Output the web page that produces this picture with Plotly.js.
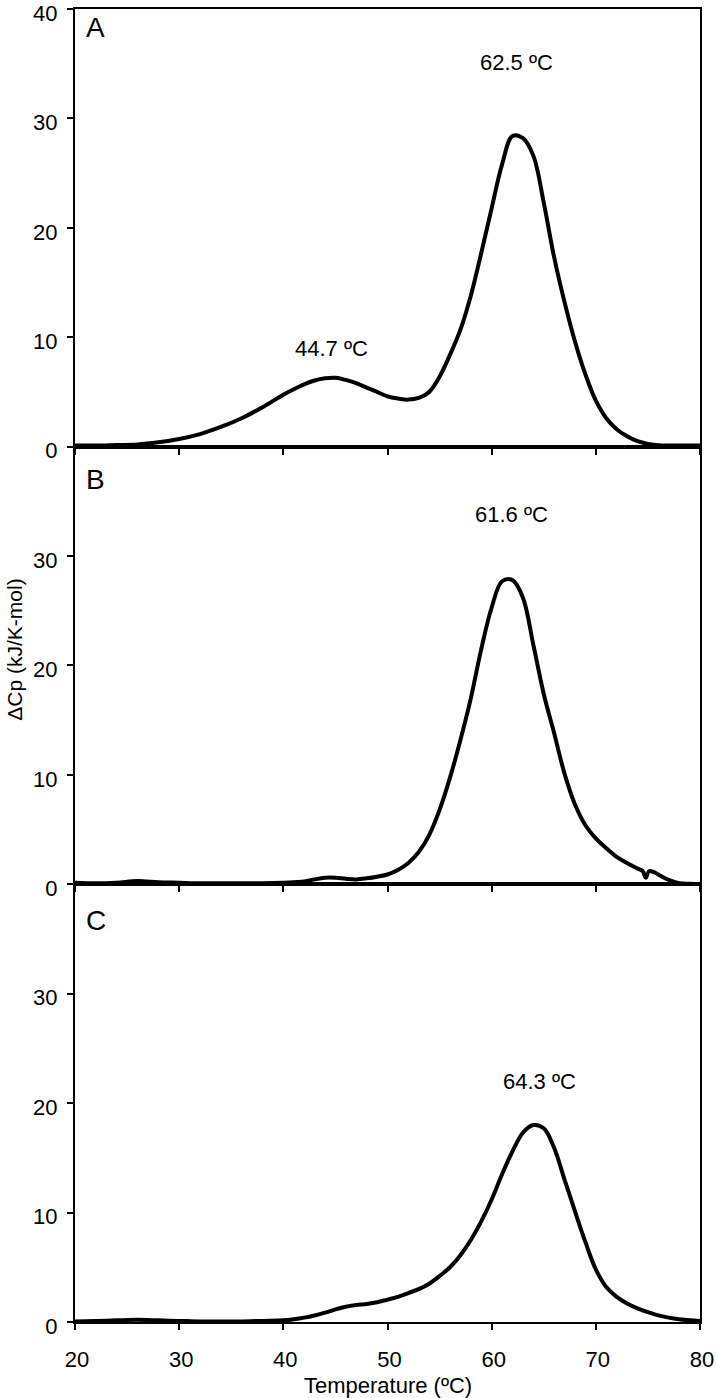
<!DOCTYPE html>
<html>
<head>
<meta charset="utf-8">
<script src="https://cdn.plot.ly/plotly-3.0.1.min.js"></script>
<style>html,body{margin:0;padding:0;background:#fff;}</style>
</head>
<body>
<div id="chart" style="width:716px;height:1398px;"></div>
<script>
// Panel A
var tempA = [20,22,24,26,28,30,32,34,36,38,40,41,42,43,44,45,46,47,48,49,50,51,52,53,54,55,56,57,58,59,60,61,62,63,64,65,66,67,68,69,70,71,72,73,74,75,76,78,80];
var cpA   = [0.1,0.1,0.15,0.2,0.4,0.7,1.15,1.8,2.6,3.6,4.75,5.25,5.7,6.05,6.25,6.3,6.1,5.8,5.4,5.0,4.6,4.4,4.3,4.45,5.0,6.4,8.4,10.7,13.8,17.7,21.8,25.8,28.4,28.2,26.6,22.3,17.3,13.2,9.6,6.6,4.2,2.6,1.6,0.95,0.5,0.25,0.12,0.1,0.1];
// Panel B
var tempB = [20,22,24,26,28,30,32,34,36,38,40,42,43,44,45,46,47,48,49,50,51,52,53,54,55,56,57,58,59,60,61,62,63,64,65,66,67,68,69,70,71,72,73,74,74.5,74.8,75.1,75.5,76,77,78,79,80];
var cpB   = [0.15,0.1,0.15,0.3,0.2,0.15,0.1,0.1,0.1,0.1,0.15,0.25,0.45,0.6,0.6,0.5,0.45,0.55,0.7,0.9,1.3,1.95,2.95,4.5,6.8,9.75,13.2,17.0,21.5,25.3,27.7,27.8,26.2,21.9,17.4,13.8,10.1,7.3,5.4,4.2,3.3,2.5,1.95,1.45,1.2,0.6,1.2,1.15,0.9,0.4,0.1,0.05,0.0];
// Panel C
var tempC = [20,22,24,26,28,30,32,34,36,38,40,41,42,43,44,45,46,47,48,49,50,51,52,53,54,55,56,57,58,59,60,61,62,63,64,65,66,67,68,69,70,71,72,73,74,75,76,77,78,79,80];
var cpC   = [0.05,0.1,0.15,0.2,0.15,0.1,0.05,0.05,0.05,0.1,0.15,0.25,0.4,0.6,0.85,1.15,1.4,1.55,1.65,1.8,2.05,2.3,2.65,3.0,3.5,4.2,5.0,6.1,7.5,9.2,11.2,13.5,15.6,17.3,18.0,17.7,15.9,13.0,10.1,7.3,4.8,3.2,2.3,1.7,1.25,0.9,0.6,0.4,0.25,0.15,0.1];

var xTicks = [20,30,40,50,60,70,80];
var yTicksA = [0,10,20,30,40];
var yTicksBC = [0,10,20,30];
var panelLabels = ['A','B','C'];
var peakLabels = ['44.7 ºC','62.5 ºC','61.6 ºC','64.3 ºC'];
var xTitle = 'Temperature (ºC)';
var yTitle = 'ΔCp (kJ/K-mol)';

var lineStyle = {color:'black', width:4, shape:'spline', smoothing:1};
var traces = [
  {x:tempA, y:cpA, xaxis:'x', yaxis:'y', mode:'lines', line:lineStyle, hoverinfo:'skip'},
  {x:tempB, y:cpB, xaxis:'x2', yaxis:'y2', mode:'lines', line:lineStyle, hoverinfo:'skip'},
  {x:tempC, y:cpC, xaxis:'x3', yaxis:'y3', mode:'lines', line:lineStyle, hoverinfo:'skip'}
];

function xax(anchor, labels){
  return {anchor:anchor, domain:[0,1], range:[20,80], tickvals:xTicks, showticklabels:labels,
    ticks:'outside', ticklen:6, tickwidth:2, tickcolor:'black', showline:true, linewidth:2,
    linecolor:'black', mirror:true, showgrid:false, zeroline:false, fixedrange:true,
    ticklabelstandoff:11, ticklabelshift:2, ticklabeloverflow:'allow', tickfont:{size:22}};
}
function yax(anchor, dom, tv){
  return {anchor:anchor, domain:dom, range:[0,40], tickvals:tv,
    ticks:'outside', ticklen:6, tickwidth:2, tickcolor:'black', showline:true, linewidth:2,
    linecolor:'black', mirror:true, showgrid:false, zeroline:false, fixedrange:true,
    ticklabelstandoff:5, ticklabelshift:4, ticklabeloverflow:'allow', tickfont:{size:22}};
}

var ann = [];
var ax = [['x','y',38.3],['x2','y2',37.0],['x3','y3',36.7]];
for (var i=0;i<3;i++){
  ann.push({xref:ax[i][0], yref:ax[i][1], x:22.0, y:ax[i][2], text:panelLabels[i], showarrow:false,
    font:{size:28}, xanchor:'center', yanchor:'middle'});
}
ann.push({xref:'x', yref:'y', x:44.6, y:9.0, text:peakLabels[0], showarrow:false, font:{size:22}, xanchor:'center', yanchor:'middle'});
ann.push({xref:'x', yref:'y', x:62.4, y:35.1, text:peakLabels[1], showarrow:false, font:{size:22}, xanchor:'center', yanchor:'middle'});
ann.push({xref:'x2', yref:'y2', x:61.9, y:33.8, text:peakLabels[2], showarrow:false, font:{size:22}, xanchor:'center', yanchor:'middle'});
ann.push({xref:'x3', yref:'y3', x:64.6, y:22.0, text:peakLabels[3], showarrow:false, font:{size:22}, xanchor:'center', yanchor:'middle'});
ann.push({xref:'paper', yref:'paper', x:0.5, y:-0.048, text:xTitle, showarrow:false, font:{size:22}, xanchor:'center', yanchor:'middle'});
ann.push({xref:'paper', yref:'paper', x:-0.096, y:0.512, text:yTitle, showarrow:false, font:{size:21}, textangle:-90, xanchor:'center', yanchor:'middle'});

var layout = {
  width:716, height:1398,
  margin:{l:75, r:16, t:9, b:76, pad:0},
  showlegend:false,
  paper_bgcolor:'white', plot_bgcolor:'white',
  font:{family:'"Liberation Sans", Arial, Helvetica, sans-serif', size:22, color:'black'},
  xaxis: xax('y', false),
  yaxis: yax('x', [2/3,1], yTicksA),
  xaxis2: xax('y2', false),
  yaxis2: yax('x2', [1/3,2/3], yTicksBC),
  xaxis3: xax('y3', true),
  yaxis3: yax('x3', [0,1/3], yTicksBC),
  annotations: ann
};

Plotly.newPlot('chart', traces, layout, {staticPlot:true, displayModeBar:false});
</script>
</body>
</html>
